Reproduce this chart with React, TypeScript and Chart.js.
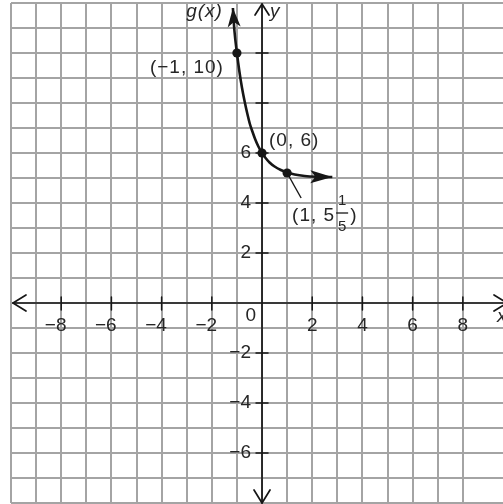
import { useEffect, useRef } from "react";
import { Chart, registerables } from "chart.js";

Chart.register(...registerables);

// Curve g(x), sampled along the drawn path
const curveX = [-1.16, -1.1, -1.0, -0.9, -0.8, -0.68, -0.58, -0.48, -0.38, -0.28, -0.15, 0, 0.15, 0.3, 0.5, 0.75, 1.0, 1.3, 1.7, 2.2, 2.8];
const curveY = [11.8, 10.9, 10.0, 9.25, 8.62, 8.0, 7.55, 7.15, 6.85, 6.57, 6.27, 6.0, 5.79, 5.62, 5.46, 5.32, 5.22, 5.14, 5.08, 5.05, 5.04];

// Highlighted points on the curve
const pointX = [-1, 0, 1];
const pointY = [10, 6, 5.2];
const pointLabels = ["(−1, 10)", "(0, 6)", "(1, 5"];
const fractionNum = "1";
const fractionDen = "5";

// Axis ticks and their labels
const xTickMarks = [-8, -6, -4, -2, 2, 4, 6, 8];
const xTickLabels = ["−8", "−6", "−4", "−2", "2", "4", "6", "8"];
const yTickMarks = [-6, -4, -2, 2, 4, 6, 8, 10];
const yLabelValues = [-6, -4, -2, 2, 4, 6];
const yTickLabels = ["−6", "−4", "−2", "2", "4", "6"];
const originLabel = "0";
const xAxisName = "x";
const yAxisName = "y";
const curveName = "g(x)";

const X_MIN = -10;
const X_MAX = 9.6;
const Y_MIN = -8;
const Y_MAX = 12;

const INK = "#161616";
const TEXT = "#262626";
const FONT = "Liberation Sans, Arial, sans-serif";

function chevron(ctx: CanvasRenderingContext2D, tx: number, ty: number, dx: number, dy: number, len: number, half: number) {
  const bx = tx - dx * len;
  const by = ty - dy * len;
  const px = -dy;
  const py = dx;
  ctx.beginPath();
  ctx.moveTo(bx + px * half, by + py * half);
  ctx.lineTo(tx, ty);
  ctx.lineTo(bx - px * half, by - py * half);
  ctx.stroke();
}

function arrowHead(ctx: CanvasRenderingContext2D, tx: number, ty: number, angle: number, len: number, half: number, notch: number) {
  ctx.save();
  ctx.translate(tx, ty);
  ctx.rotate(angle);
  ctx.beginPath();
  ctx.moveTo(0, 0);
  ctx.lineTo(-len, -half);
  ctx.lineTo(-len + notch, 0);
  ctx.lineTo(-len, half);
  ctx.closePath();
  ctx.fill();
  ctx.restore();
}

const axesPlugin = {
  id: "cartesianAxes",
  beforeDatasetsDraw(chart: any) {
    const ctx: CanvasRenderingContext2D = chart.ctx;
    const xs = chart.scales.x;
    const ys = chart.scales.y;
    const area = chart.chartArea;
    const x0 = xs.getPixelForValue(0);
    const y0 = ys.getPixelForValue(0);
    ctx.save();
    ctx.strokeStyle = INK;
    ctx.lineWidth = 1.7;
    ctx.lineCap = "round";
    ctx.lineJoin = "round";

    // axis lines
    ctx.beginPath();
    ctx.moveTo(area.left + 2, y0);
    ctx.lineTo(area.right + 4, y0);
    ctx.moveTo(x0, area.top + 1);
    ctx.lineTo(x0, area.bottom);
    ctx.stroke();

    // open arrow ends
    chevron(ctx, area.left + 2, y0, -1, 0, 13, 8);
    chevron(ctx, area.right + 4, y0, 1, 0, 13, 8);
    chevron(ctx, x0, area.top + 1, 0, -1, 11, 7);
    chevron(ctx, x0, area.bottom, 0, 1, 13, 8);

    // tick marks
    ctx.lineWidth = 1.5;
    ctx.beginPath();
    xTickMarks.forEach((v) => {
      const px = xs.getPixelForValue(v);
      ctx.moveTo(px, y0 - 6);
      ctx.lineTo(px, y0 + 7);
    });
    yTickMarks.forEach((v) => {
      const py = ys.getPixelForValue(v);
      ctx.moveTo(x0 - 6, py);
      ctx.lineTo(x0 + 6, py);
    });
    ctx.stroke();

    // tick labels
    ctx.fillStyle = TEXT;
    ctx.font = `19px ${FONT}`;
    ctx.textBaseline = "middle";
    ctx.textAlign = "right";
    const halfDigit = ctx.measureText("0").width / 2;
    xTickMarks.forEach((v, i) => {
      const px = xs.getPixelForValue(v);
      ctx.fillText(xTickLabels[i], px + halfDigit, y0 + 23);
    });
    yLabelValues.forEach((v, i) => {
      const py = ys.getPixelForValue(v);
      ctx.fillText(yTickLabels[i], x0 - 11, py);
    });
    ctx.fillText(originLabel, x0 - 6, y0 + 13);

    // axis names
    ctx.font = `italic 19px ${FONT}`;
    ctx.textAlign = "left";
    ctx.fillText(yAxisName, x0 + 8, area.top + 9);
    ctx.fillText(xAxisName, area.right - 6, y0 + 14);
    ctx.restore();
  },
  afterDatasetsDraw(chart: any) {
    const ctx: CanvasRenderingContext2D = chart.ctx;
    const line = chart.getDatasetMeta(1).data;
    const pts = chart.getDatasetMeta(0).data;
    ctx.save();
    ctx.fillStyle = INK;

    // filled arrowheads at both ends of the curve
    const a0 = line[0];
    const a1 = line[1];
    arrowHead(ctx, a0.x, a0.y, Math.atan2(a0.y - a1.y, a0.x - a1.x), 19, 6.5, 5);
    const b0 = line[line.length - 1];
    const b1 = line[line.length - 2];
    arrowHead(ctx, b0.x, b0.y, Math.atan2(b0.y - b1.y, b0.x - b1.x), 22, 6.5, 5);

    // curve name beside the top arrow
    ctx.fillStyle = TEXT;
    ctx.textBaseline = "middle";
    ctx.font = `italic 19px ${FONT}`;
    ctx.textAlign = "right";
    (ctx as any).letterSpacing = "1px";
    ctx.fillText(curveName, a0.x - 10, a0.y + 4);

    // point labels
    ctx.font = `19px ${FONT}`;
    ctx.textAlign = "right";
    ctx.fillText(pointLabels[0], pts[0].x - 13, pts[0].y + 15);
    ctx.textAlign = "left";
    ctx.fillText(pointLabels[1], pts[1].x + 7, pts[1].y - 12);

    // leader line and mixed-number label for the third point
    const p = pts[2];
    ctx.strokeStyle = INK;
    ctx.lineWidth = 1.4;
    ctx.beginPath();
    ctx.moveTo(p.x, p.y);
    ctx.lineTo(p.x + 14, p.y + 25);
    ctx.stroke();
    const lx = p.x + 5;
    const ly = p.y + 43;
    ctx.fillText(pointLabels[2], lx, ly);
    const w = ctx.measureText(pointLabels[2]).width;
    const fx = lx + w + 7;
    ctx.font = `15px ${FONT}`;
    (ctx as any).letterSpacing = "0px";
    ctx.textAlign = "center";
    ctx.fillText(fractionNum, fx, ly - 15);
    ctx.fillText(fractionDen, fx, ly + 11);
    ctx.lineWidth = 1.3;
    ctx.beginPath();
    ctx.moveTo(fx - 6, ly - 3);
    ctx.lineTo(fx + 6, ly - 3);
    ctx.stroke();
    ctx.font = `19px ${FONT}`;
    ctx.textAlign = "left";
    ctx.fillText(")", fx + 8, ly);
    ctx.restore();
  },
};

function keepIntegers(scale: any) {
  scale.ticks = scale.ticks.filter((t: any) => Math.abs(t.value - Math.round(t.value)) < 1e-9);
}

export default function App() {
  const canvasRef = useRef<HTMLCanvasElement | null>(null);

  useEffect(() => {
    const canvas = canvasRef.current;
    if (!canvas) return;
    const gridOpts = { color: "#a4a4a4", lineWidth: 2, drawTicks: false };
    const chart = new Chart(canvas, {
      type: "scatter",
      data: {
        datasets: [
          {
            type: "scatter",
            data: pointX.map((x, i) => ({ x, y: pointY[i] })),
            pointRadius: 4.6,
            backgroundColor: INK,
            borderWidth: 0,
            order: 0,
          },
          {
            type: "line",
            data: curveX.map((x, i) => ({ x, y: curveY[i] })),
            borderColor: INK,
            borderWidth: 2.6,
            pointRadius: 0,
            fill: false,
            cubicInterpolationMode: "monotone",
            order: 1,
          } as any,
        ],
      },
      options: {
        animation: false,
        responsive: false,
        devicePixelRatio: 1,
        events: [],
        layout: { autoPadding: false, padding: { left: 11, top: 3, right: 0, bottom: 1 } },
        plugins: { legend: { display: false }, tooltip: { enabled: false } },
        scales: {
          x: {
            type: "linear",
            min: X_MIN,
            max: X_MAX,
            ticks: { display: false, stepSize: 1 },
            grid: gridOpts,
            border: { display: false },
            afterBuildTicks: keepIntegers,
          },
          y: {
            type: "linear",
            min: Y_MIN,
            max: Y_MAX,
            ticks: { display: false, stepSize: 1 },
            grid: gridOpts,
            border: { display: false },
            afterBuildTicks: keepIntegers,
          },
        },
      },
      plugins: [axesPlugin],
    });
    return () => chart.destroy();
  }, []);

  return (
    <div style={{ position: "absolute", left: 0, top: 0, width: 503, height: 504, background: "#fff" }}>
      <canvas ref={canvasRef} width={503} height={504} style={{ display: "block", width: 503, height: 504 }} />
    </div>
  );
}
